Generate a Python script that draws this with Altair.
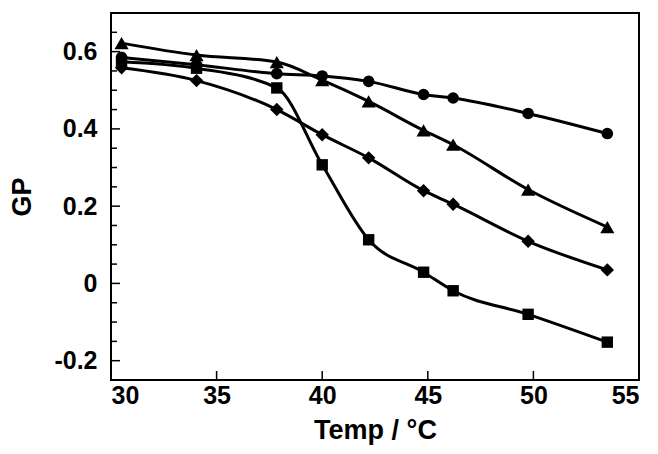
import altair as alt
import pandas as pd

# ---- data ----
temps = [30.5, 34.05, 37.85, 40.0, 42.2, 44.8, 46.2, 49.75, 53.5]
gp_circle = [0.585, 0.566, 0.543, 0.537, 0.523, 0.489, 0.480, 0.440, 0.388]
gp_triangle = [0.622, 0.591, 0.573, 0.526, 0.471, 0.396, 0.359, 0.243, 0.146]
gp_diamond = [0.558, 0.525, 0.450, 0.385, 0.325, 0.240, 0.205, 0.109, 0.035]
gp_square = [0.574, 0.557, 0.506, 0.307, 0.113, 0.029, -0.019, -0.080, -0.152]
series_names = ["circle", "triangle", "diamond", "square"]
series_shapes = ["circle", "triangle-up", "diamond", "square"]
series_sizes = [135, 200, 180, 130]

x_ticks = [30, 35, 40, 45, 50, 55]
x_inner_ticks = [35, 40, 45, 50]
y_ticks = [-0.2, 0, 0.2, 0.4, 0.6]
y_minor = [-0.15, -0.1, -0.05, 0.05, 0.1, 0.15, 0.25, 0.3, 0.35, 0.45, 0.5, 0.55, 0.65]

W, H = 528, 367
XDOM = [30, 55]
YDOM = [-0.25, 0.7]

rows = []
for name, vals in zip(series_names, [gp_circle, gp_triangle, gp_diamond, gp_square]):
    for t, v in zip(temps, vals):
        rows.append({"series": name, "temp": t, "gp": v})
df = pd.DataFrame(rows)

xs = alt.Scale(domain=XDOM, nice=False, zero=False)
ys = alt.Scale(domain=YDOM, nice=False, zero=False)
x_axis = alt.Axis(values=x_ticks, format="d", title="Temp / °C", labelPadding=3, titlePadding=9)
y_axis = alt.Axis(
    values=y_ticks, title="GP", labelPadding=14, titlePadding=17,
    labelExpr="datum.value == 0 ? '0' : (datum.value < 0 ? '-' + format(-datum.value, '.1f') : format(datum.value, '.1f'))")


def X(f="temp"):
    return alt.X(f"{f}:Q", scale=xs, axis=x_axis, title="Temp / °C")


def Y(f="gp"):
    return alt.Y(f"{f}:Q", scale=ys, axis=y_axis, title="GP")


lines = alt.Chart(df).mark_line(color="black", strokeWidth=3, interpolate="monotone").encode(
    x=X(), y=Y(), detail="series:N")

point_layers = []
for name, shp, sz in zip(series_names, series_shapes, series_sizes):
    point_layers.append(
        alt.Chart(df).transform_filter(alt.datum.series == name)
        .mark_point(filled=True, opacity=1, color="black", shape=shp, size=sz)
        .encode(x=X(), y=Y())
    )

xt = alt.Chart(pd.DataFrame({"temp": x_inner_ticks})).mark_rule(color="black", strokeWidth=1.5).encode(
    x=X(), y=alt.value(H), y2=alt.value(H - 9))
ytm = alt.Chart(pd.DataFrame({"gp": y_ticks})).mark_rule(color="black", strokeWidth=1.5).encode(
    y=Y(), x=alt.value(0), x2=alt.value(9))
ytn = alt.Chart(pd.DataFrame({"gp": y_minor})).mark_rule(color="black", strokeWidth=1.5).encode(
    y=Y(), x=alt.value(0), x2=alt.value(6))

chart = alt.layer(lines, *point_layers, xt, ytm, ytn).properties(
    width=W, height=H,
    autosize=alt.AutoSizeParams(type="none"),
    padding={"left": 103, "top": 5, "right": 6, "bottom": 65},
    background="white",
).configure_view(stroke="black", strokeWidth=2).configure_axis(
    labelFont="Liberation Sans", labelFontWeight="bold", labelFontSize=25, labelColor="black",
    titleFont="Liberation Sans", titleFontWeight="bold", titleFontSize=27, titleColor="black",
    domain=False, ticks=False, tickSize=0, grid=False,
)

chart.save("out.html", embed_options={"renderer": "svg", "actions": False})
